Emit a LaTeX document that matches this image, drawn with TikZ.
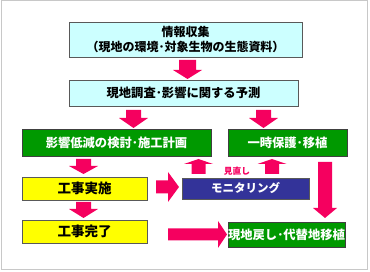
\documentclass[tikz,border=0pt]{standalone}
\usepackage{fontspec}
\newfontfamily\jp{Noto Sans CJK JP}
\definecolor{pk}{HTML}{F5005F}
\definecolor{cy}{HTML}{CCFFFF}
\definecolor{gr}{HTML}{009900}
\definecolor{yl}{HTML}{FFFF00}
\definecolor{bl}{HTML}{333399}
\definecolor{frame}{HTML}{C8C8C8}
\newcommand\darr[6]{\fill[pk] ({#1-#4},#2) -- ({#1+#4},#2) -- ({#1+#4},#6) -- ({#1+#5},#6) -- (#1,#3) -- ({#1-#5},#6) -- ({#1-#4},#6) -- cycle;}
\newcommand\rarr[6]{\fill[pk] (#2,{#1-#4}) -- (#2,{#1+#4}) -- (#6,{#1+#4}) -- (#6,{#1+#5}) -- (#3,#1) -- (#6,{#1-#5}) -- (#6,{#1-#4}) -- cycle;}
\begin{document}
\begin{tikzpicture}[x=1pt,y=-1pt,
  box/.style={draw=gray!70!black,line width=0.8pt,inner sep=0pt,align=center,font=\jp\bfseries\fontsize{12.3}{15}\selectfont},
  cbox/.style={box,fill=cy,text=black},
  gbox/.style={box,fill=gr,text=white,draw=gray!50!black},
  ybox/.style={box,fill=yl,text=black,font=\jp\bfseries\fontsize{13.5}{15}\selectfont},
  bbox/.style={box,fill=bl,text=white,font=\jp\bfseries\fontsize{11.5}{15}\selectfont}]
\useasboundingbox (0,0) rectangle (370,272);
\draw[frame,line width=1pt] (1,1) rectangle (367,270);
\node[cbox,minimum width=233pt,minimum height=35pt,font=\jp\bfseries\fontsize{12}{15.5}\selectfont] (info) at (185.5,39.5) {情報収集\\（現地の環境･対象生物の生態資料）};
\node[cbox,minimum width=229pt,minimum height=26pt] (survey) at (183.5,93) {現地調査･影響に関する予測};
\node[gbox,minimum width=189pt,minimum height=27pt] (reduce) at (116.5,142.5) {影響低減の検討･施工計画};
\node[gbox,minimum width=119pt,minimum height=27pt] (protect) at (287.5,142.5) {一時保護･移植};
\node[ybox,minimum width=125pt,minimum height=23pt] (construct) at (84.5,188.5) {工事実施};
\node[bbox,minimum width=127pt,minimum height=21pt] (monitor) at (245.5,188.5) {モニタリング};
\node[ybox,minimum width=125pt,minimum height=23pt] (complete) at (84.5,231.5) {工事完了};
\node[gbox,minimum width=117pt,minimum height=25pt] (restore) at (286.5,234.5) {現地戻し･代替地移植};
\node[text=pk,font=\jp\bfseries\fontsize{8.7}{9}\selectfont,inner sep=0pt] (review) at (237,171.5) {見直し};
\darr{187.5}{60}{79}{8.5}{14.5}{70}
\darr{133.5}{110}{128}{7.5}{14.5}{118}
\darr{263.5}{110}{128}{7.5}{14.5}{118}
\darr{83.5}{159}{174}{7.5}{14.5}{166}
\darr{83.5}{202}{218}{7.5}{14.5}{209}
\darr{325}{162}{218}{7}{12}{208}
\darr{198.5}{174}{159}{7}{14.5}{164}
\darr{272}{174}{159}{7}{14.5}{164}
\rarr{187}{156}{179}{6.5}{15}{168}
\rarr{234.5}{168}{227}{6}{13.5}{218}
\end{tikzpicture}
\end{document}
